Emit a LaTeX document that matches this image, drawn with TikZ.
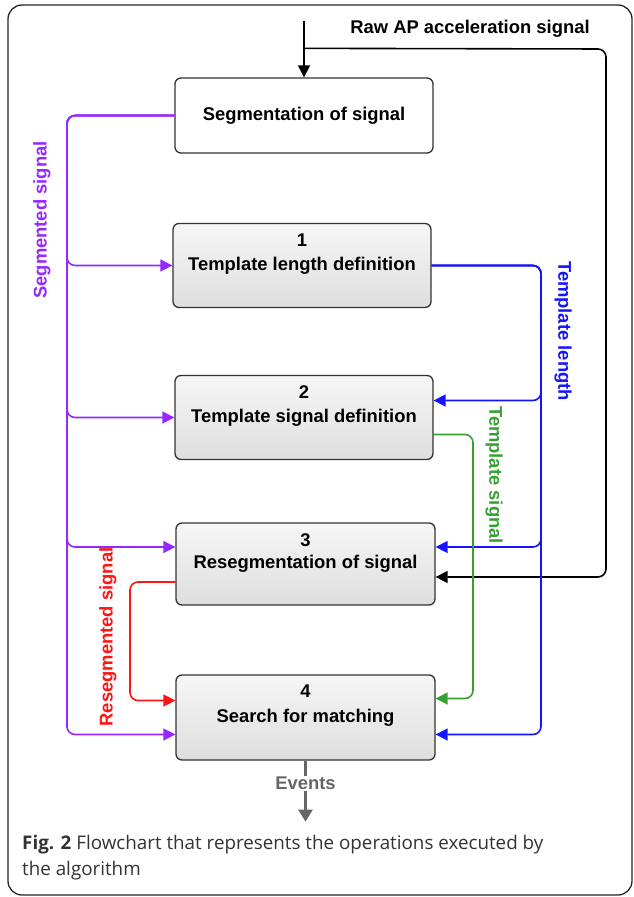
\documentclass[tikz,border=0pt]{standalone}
\usepackage{fontspec}
\usepackage{tikz}
\usetikzlibrary{arrows.meta, calc, positioning}

\newfontfamily\diagfont{Liberation Sans}
\newfontfamily\capfont{Open Sans}

\definecolor{segpurple}{RGB}{150,40,255}
\definecolor{lenblue}{RGB}{20,20,255}
\definecolor{siggreen}{RGB}{55,160,50}
\definecolor{resred}{RGB}{255,20,20}
\definecolor{evgray}{RGB}{102,102,102}

\tikzset{
    stage/.style={draw=black!80, line width=1.3pt, rounded corners=6pt,
        top color=gray!7, bottom color=gray!26, minimum width=258pt,
        minimum height=84pt, inner sep=0pt,
        font=\diagfont\bfseries\fontsize{18.4}{21}\selectfont},
    flow/.style={line width=1.6pt, rounded corners=8pt,
        -{Triangle[width=12pt, length=12pt]}},
    lbl/.style={font=\diagfont\bfseries\fontsize{18.4}{21}\selectfont, inner sep=1pt},
}

\begin{document}
\begin{tikzpicture}[x=1pt, y=1pt]
    \useasboundingbox (0,0) rectangle (633,-897);
    % outer frame
    \draw[black!85, line width=1.3pt, rounded corners=14pt] (8,-5) rectangle (632,-895);

    % stages
    \node[stage, top color=white, bottom color=white, minimum height=75pt]
        (seg) at (304,-115.5) {Segmentation of signal};
    \node[stage, label={[lbl, anchor=center, yshift=-17pt]north:1}]
        (tlen) at (302,-265.5) {Template length definition};
    \node[stage, label={[lbl, anchor=center, yshift=-17pt]north:2}]
        (tsig) at (304,-417.5) {Template signal definition};
    \node[stage, minimum width=259pt, minimum height=82pt,
        label={[lbl, anchor=center, yshift=-18pt]north:3}]
        (reseg) at (305.5,-564) {Resegmentation of signal};
    \node[stage, minimum width=259pt, minimum height=85pt,
        label={[lbl, anchor=center, yshift=-17pt]north:4}]
        (search) at (305.5,-717.5) {Search for matching};

    % ports on the boxes
    \coordinate (reseg-seg) at ([yshift=17pt]reseg.west);
    \coordinate (reseg-out) at ([yshift=-18pt]reseg.west);
    \coordinate (search-res) at ([yshift=17pt]search.west);
    \coordinate (search-seg) at ([yshift=-17pt]search.west);
    \coordinate (tsig-len) at ([yshift=17pt]tsig.east);
    \coordinate (tsig-out) at ([yshift=-17pt]tsig.east);
    \coordinate (reseg-len) at ([yshift=17pt]reseg.east);
    \coordinate (reseg-raw) at ([yshift=-13pt]reseg.east);
    \coordinate (search-sig) at ([yshift=19pt]search.east);
    \coordinate (search-len) at ([yshift=-17pt]search.east);

    % bus lines
    \coordinate (segbus) at (67,-115.5);
    \coordinate (lenbus) at (541,-265.5);
    \coordinate (sigbus) at (473,-434.5);
    \coordinate (resbus) at (130,-582);
    \coordinate (rawin) at ([yshift=56pt]seg.north);
    \coordinate (rawsplit) at ([yshift=29pt]seg.north);
    \coordinate (rawbus) at (606,-49);

    % raw signal
    \draw[flow, black, rounded corners=0pt] (rawin) -- (seg.north);
    \draw[flow, black] (rawsplit) -- (rawbus) |- (reseg-raw);
    \node[lbl] (rawlbl) at (470,-28.5) {Raw AP acceleration signal};

    % segmented signal
    \foreach \t in {tlen.west, tsig.west, reseg-seg, search-seg}
        \draw[flow, segpurple] (seg.west) -- (segbus) |- (\t);
    \node[lbl, segpurple, rotate=90] (seglbl) at (42,-220) {Segmented signal};

    % template length
    \foreach \t in {tsig-len, reseg-len, search-len}
        \draw[flow, lenblue] (tlen.east) -- (lenbus) |- (\t);
    \node[lbl, lenblue, rotate=-90] (lenlbl) at (563,-331) {Template length};

    % template signal
    \draw[flow, siggreen] (tsig-out) -- (sigbus) |- (search-sig);
    \node[lbl, siggreen, rotate=-90] (siglbl) at (494,-475) {Template signal};

    % resegmented signal
    \draw[flow, resred] (reseg-out) -- (resbus) |- (search-res);
    \node[lbl, resred, rotate=90] (reslbl) at (108,-637) {Resegmented signal};

    % events
    \node[lbl, evgray] (events) at ([yshift=-23pt]search.south) {Events};
    \coordinate (evend) at ([yshift=-61pt]search.south);
    \draw[evgray, line width=2.6pt] (search.south) -- (events.north);
    \draw[flow, evgray, line width=2.6pt, -{Triangle[width=14pt, length=12pt]}]
        (events.south) -- (evend);

    % caption
    \node[anchor=north west, align=left, inner sep=0pt, text=black!80,
        font=\capfont\fontsize{18.8}{26}\selectfont]
        (caption) at (22,-835) {\textbf{Fig. 2} Flowchart that represents the operations executed by\\the algorithm};
\end{tikzpicture}
\end{document}
